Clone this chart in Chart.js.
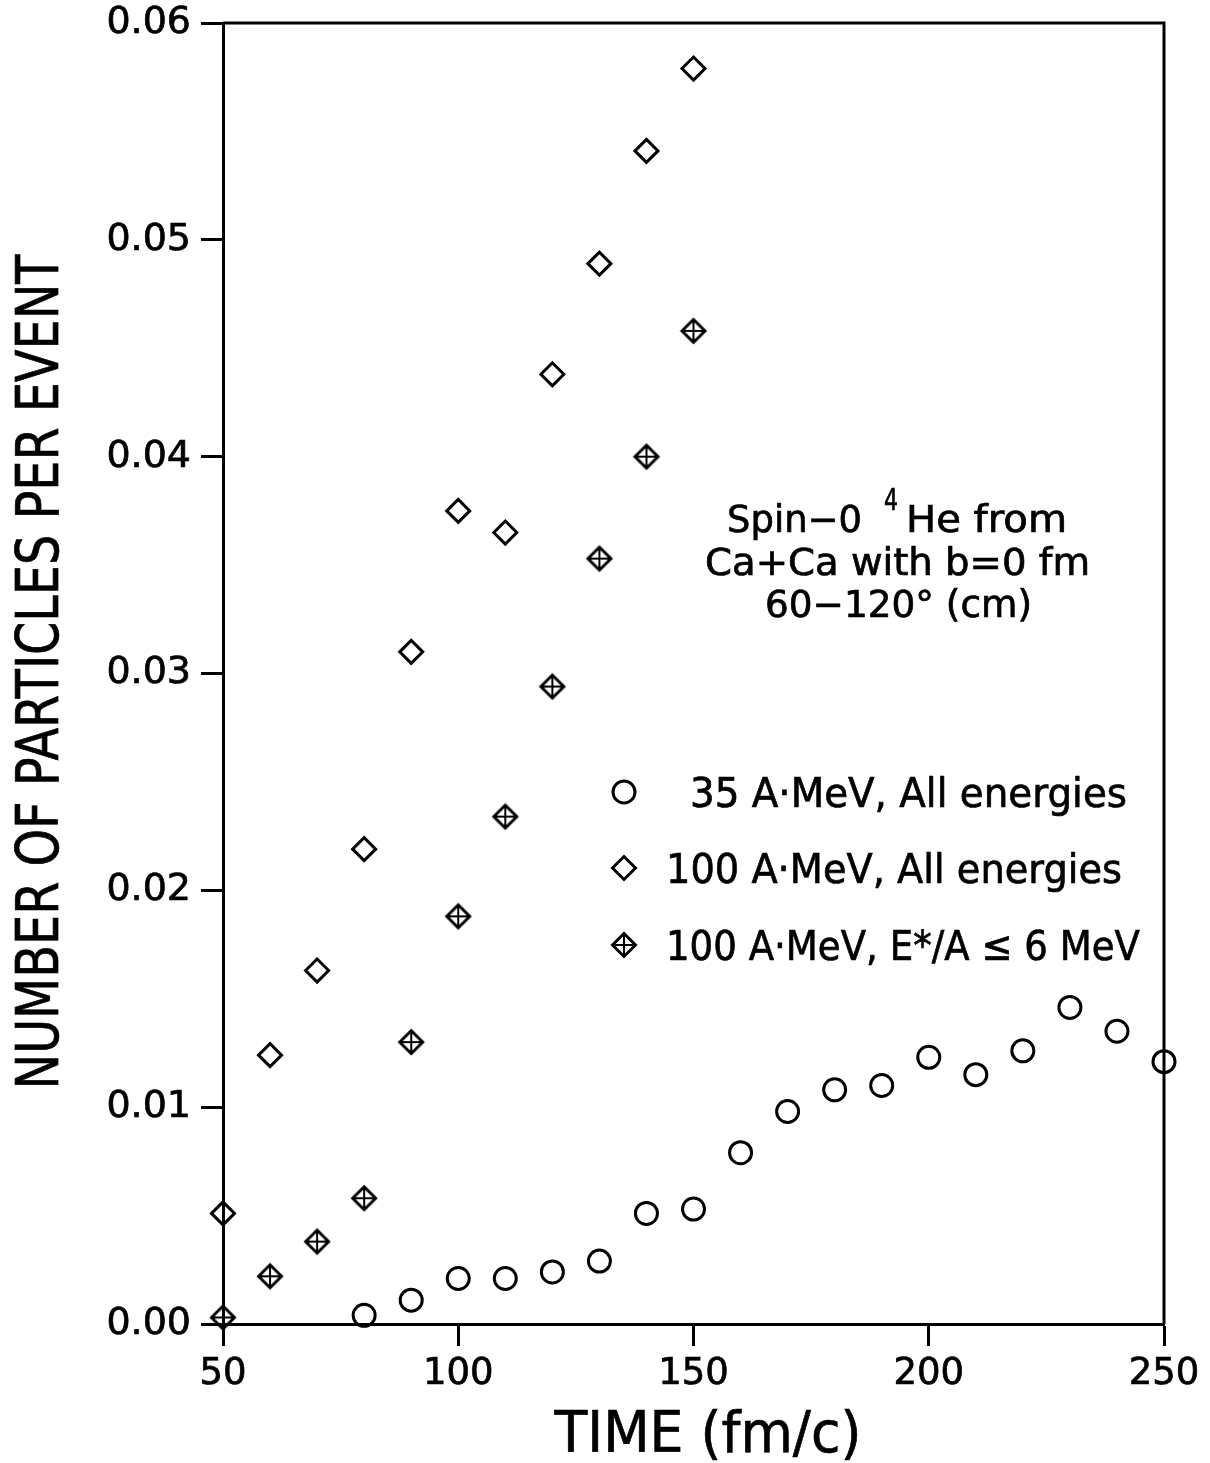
<!DOCTYPE html>
<html>
<head>
<meta charset="utf-8">
<script src="https://cdn.jsdelivr.net/npm/chart.js@4.4.1/dist/chart.umd.min.js"></script>
<style>
  html, body { margin: 0; padding: 0; background: #fff; }
  #wrap { position: relative; width: 1210px; height: 1463px; }
</style>
</head>
<body>
<div id="wrap"><canvas id="c"></canvas></div>
<script>
// ---- данные ----
const t35   = [80, 90, 100, 110, 120, 130, 140, 150, 160, 170, 180, 190, 200, 210, 220, 230, 240, 250];
const n35   = [0.0004, 0.0011, 0.0021, 0.0021, 0.0024, 0.0029, 0.0051, 0.0053, 0.0079, 0.0098,
               0.0108, 0.0110, 0.0123, 0.0115, 0.0126, 0.0146, 0.0135, 0.0121];
const t100      = [50, 60, 70, 80, 90, 100, 110, 120, 130, 140, 150];
const n100all   = [0.0051, 0.0124, 0.0163, 0.0219, 0.0310, 0.0375, 0.0365, 0.0438, 0.0489, 0.0541, 0.0579];
const n100cold  = [0.0003, 0.0022, 0.0038, 0.0058, 0.0130, 0.0188, 0.0234, 0.0294, 0.0353, 0.0400, 0.0458];

const xTicks = [50, 100, 150, 200, 250];
const yTicks = [0.00, 0.01, 0.02, 0.03, 0.04, 0.05, 0.06];

const seriesLabels = ['35 A\u00b7MeV, All energies', '100 A\u00b7MeV, All energies', '100 A\u00b7MeV, E*/A \u2264 6 MeV'];
const xTitle = 'TIME (fm/c)';
const yTitle = 'NUMBER OF PARTICLES PER EVENT';

const FONT = "'DejaVu Sans', 'Liberation Sans', sans-serif";
const ink = '#000';

// ромб с крестом — своя картинка для pointStyle
const crossDiamond = (() => {
  const cv = document.createElement('canvas');
  cv.width = 34; cv.height = 34;
  const g = cv.getContext('2d');
  const c = 17, r = 11.5;
  g.strokeStyle = ink;
  g.lineWidth = 3;
  g.beginPath();
  g.moveTo(c - r, c); g.lineTo(c, c - r); g.lineTo(c + r, c); g.lineTo(c, c + r); g.closePath();
  g.stroke();
  g.lineWidth = 2;
  g.beginPath();
  g.moveTo(c - r, c); g.lineTo(c + r, c);
  g.moveTo(c, c - r); g.lineTo(c, c + r);
  g.stroke();
  return cv;
})();

const pts = (xs, ys) => xs.map((x, i) => ({ x, y: ys[i] }));

// текст, подогнанный по ширине (шрифт на рисунке узкий и жирноватый)
function fitText(ctx, str, x, y, size, width, align) {
  ctx.save();
  ctx.font = size + 'px ' + FONT;
  const w = ctx.measureText(str).width;
  const k = width ? width / w : 1;
  ctx.translate(x, y);
  ctx.scale(k, 1);
  ctx.textAlign = align || 'left';
  ctx.textBaseline = 'alphabetic';
  ctx.fillStyle = ink;
  ctx.strokeStyle = ink;
  ctx.lineWidth = 0.7;
  ctx.fillText(str, 0, 0);
  ctx.strokeText(str, 0, 0);
  ctx.restore();
}

function drawMarker(ctx, ds, x, y) {
  ctx.save();
  ctx.strokeStyle = ink;
  ctx.lineWidth = 3;
  if (ds.pointStyle === 'circle') {
    ctx.beginPath(); ctx.arc(x, y, ds.pointRadius, 0, Math.PI * 2); ctx.stroke();
  } else if (ds.pointStyle === 'rectRot') {
    const r = ds.pointRadius;
    ctx.beginPath();
    ctx.moveTo(x - r, y); ctx.lineTo(x, y - r); ctx.lineTo(x + r, y); ctx.lineTo(x, y + r); ctx.closePath();
    ctx.stroke();
  } else {
    ctx.drawImage(ds.pointStyle, x - ds.pointStyle.width / 2, y - ds.pointStyle.height / 2);
  }
  ctx.restore();
}

// рамка, подписи осей, надпись и легенда
const decor = {
  id: 'decor',
  afterDraw(chart) {
    const { ctx, chartArea: a } = chart;
    ctx.save();
    ctx.strokeStyle = ink;
    ctx.lineWidth = 3;
    ctx.beginPath();
    ctx.moveTo(a.left, a.top); ctx.lineTo(a.right, a.top); ctx.lineTo(a.right, a.bottom);
    ctx.stroke();
    ctx.restore();

    // подпись оси Y
    ctx.save();
    ctx.translate(58, 672);
    ctx.rotate(-Math.PI / 2);
    fitText(ctx, yTitle, 0, 0, 58, 835, 'center');
    ctx.restore();

    // подпись оси X
    fitText(ctx, xTitle, 708, 1452, 57, 307, 'center');

    // надпись справа
    fitText(ctx, 'Spin\u22120', 727, 532, 37, 135);
    fitText(ctx, '4', 884, 510, 30, 14);
    fitText(ctx, 'He from', 906, 532, 37, 161);
    fitText(ctx, 'Ca+Ca with b=0 fm', 705, 575, 37, 385);
    fitText(ctx, '60\u2212120\u00b0 (cm)', 765, 617, 37, 267);

    // легенда
    const rows = [
      { y: 792, x0: 690, w: 437 },
      { y: 868, x0: 666, w: 456 },
      { y: 945, x0: 666, w: 474 }
    ];
    chart.data.datasets.forEach((ds, i) => {
      const r = rows[i];
      drawMarker(ctx, ds, 624, r.y);
      fitText(ctx, ds.label, r.x0, r.y + 15, 41, r.w);
    });
  }
};

new Chart(document.getElementById('c').getContext('2d'), {
  type: 'scatter',
  data: {
    datasets: [
      {
        label: seriesLabels[0],
        data: pts(t35, n35),
        pointStyle: 'circle', pointRadius: 11, borderWidth: 3,
        borderColor: ink, backgroundColor: 'transparent', clip: false
      },
      {
        label: seriesLabels[1],
        data: pts(t100, n100all),
        pointStyle: 'rectRot', pointRadius: 11.5, borderWidth: 3,
        borderColor: ink, backgroundColor: 'transparent', clip: false
      },
      {
        label: seriesLabels[2],
        data: pts(t100, n100cold),
        pointStyle: crossDiamond, pointRadius: 11.5, borderWidth: 3,
        borderColor: ink, backgroundColor: 'transparent', clip: false
      }
    ]
  },
  options: {
    responsive: true,
    maintainAspectRatio: false,
    animation: false,
    events: [],
    layout: { padding: { top: 23, right: 46, left: 0, bottom: 0 } },
    plugins: { legend: { display: false }, tooltip: { enabled: false } },
    scales: {
      x: {
        type: 'linear', min: 50, max: 250,
        afterBuildTicks: s => { s.ticks = xTicks.map(v => ({ value: v })); },
        afterFit: s => { s.height = 139; },
        border: { display: true, width: 3, color: ink },
        grid: { drawOnChartArea: false, drawTicks: true, tickLength: 22, tickWidth: 3, tickColor: ink },
        ticks: {
          color: ink, padding: 6, maxRotation: 0, font: { family: FONT, size: 37 },
          textStrokeWidth: 0.7, textStrokeColor: ink
        }
      },
      y: {
        type: 'linear', min: 0, max: 0.06,
        afterBuildTicks: s => { s.ticks = yTicks.map(v => ({ value: v })); },
        afterFit: s => { s.width = 223; s.paddingTop = 0; s.paddingBottom = 0; },
        border: { display: true, width: 3, color: ink },
        grid: { drawOnChartArea: false, drawTicks: true, tickLength: 22, tickWidth: 3, tickColor: ink },
        ticks: {
          color: ink, padding: 10, font: { family: FONT, size: 38, lineHeight: 1 },
          textStrokeWidth: 0.7, textStrokeColor: ink,
          callback: v => v.toFixed(2)
        }
      }
    }
  },
  plugins: [decor]
});
</script>
</body>
</html>
